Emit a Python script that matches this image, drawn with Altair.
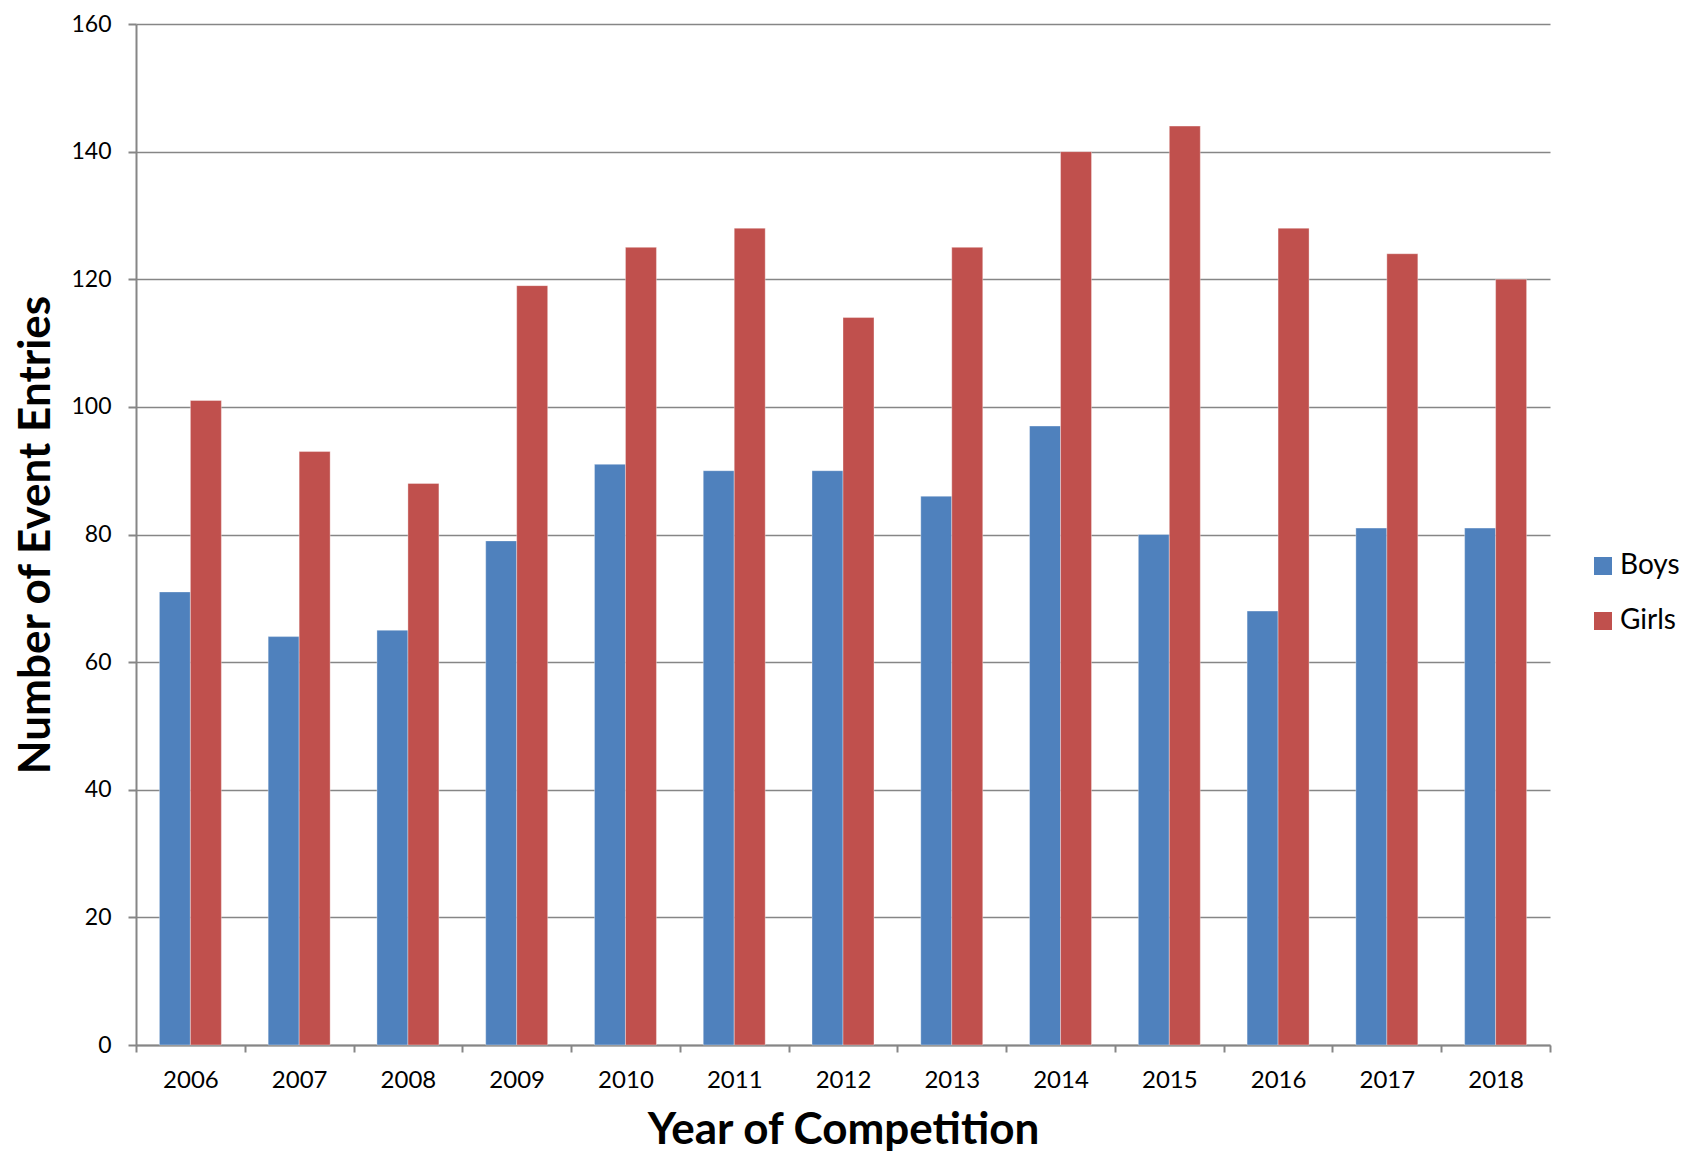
import altair as alt
import pandas as pd

years = ["2006", "2007", "2008", "2009", "2010", "2011", "2012",
         "2013", "2014", "2015", "2016", "2017", "2018"]
boys = [71, 64, 65, 79, 91, 90, 90, 86, 97, 80, 68, 81, 81]
girls = [101, 93, 88, 119, 125, 128, 114, 125, 140, 144, 128, 124, 120]
series = ["Boys", "Girls"]
colors = ["#4F81BD", "#C0504D"]

rows = []
for i, y in enumerate(years):
    rows.append({"year": y, "group": "Boys", "value": boys[i]})
    rows.append({"year": y, "group": "Girls", "value": girls[i]})
df = pd.DataFrame(rows)

FONT = "Lato"
GRAY = "#868686"

chart = alt.Chart(df).mark_bar(stroke="#ffffff", strokeOpacity=0.35, strokeWidth=1).encode(
    x=alt.X("year:N", sort=years,
            scale=alt.Scale(paddingInner=0, paddingOuter=0),
            axis=alt.Axis(title="Year of Competition", labelAngle=0,
                          tickBand="extent", tickSize=7, tickColor=GRAY, tickWidth=2,
                          domainColor=GRAY, domainWidth=2,
                          labelFont=FONT, labelFontSize=24, labelColor="#000000",
                          labelPadding=16,
                          titleFont=FONT, titleFontSize=44, titleFontWeight="bold",
                          titleColor="#000000", titlePadding=16, grid=False)),
    xOffset=alt.XOffset("group:N", sort=series,
                        scale=alt.Scale(paddingInner=0, paddingOuter=0.755)),
    y=alt.Y("value:Q", scale=alt.Scale(domain=[0, 160], nice=False),
            axis=alt.Axis(title="Number of Event Entries", values=list(range(0, 161, 20)),
                          tickSize=8, tickColor=GRAY, tickWidth=2,
                          domainColor=GRAY, domainWidth=2,
                          gridColor=GRAY, gridWidth=1.5,
                          labelFont=FONT, labelFontSize=23, labelColor="#000000",
                          labelPadding=17,
                          titleFont=FONT, titleFontSize=44, titleFontWeight="bold",
                          titleColor="#000000", titlePadding=12)),
    color=alt.Color("group:N", sort=series,
                    scale=alt.Scale(domain=series, range=colors),
                    legend=alt.Legend(title=None, orient="none", legendX=1453, legendY=528,
                                      symbolType="square", symbolSize=324,
                                      symbolStrokeWidth=0, padding=0,
                                      labelFont=FONT, labelFontSize=28, labelColor="#000000",
                                      labelOffset=3, rowPadding=27)),
).properties(
    width=1414, height=1021,
    padding={"left": 128, "top": 16, "right": 140, "bottom": 110},
    autosize=alt.AutoSizeParams(type="none"),
).configure_view(stroke=None)

chart.save("out.html", embed_options={"renderer": "svg", "actions": False})
